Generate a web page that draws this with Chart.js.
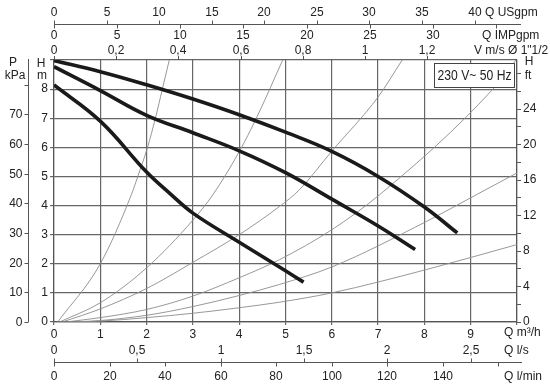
<!DOCTYPE html>
<html>
<head>
<meta charset="utf-8">
<script src="https://cdn.jsdelivr.net/npm/chart.js@4.4.1/dist/chart.umd.min.js"></script>
<style>
  html, body { margin: 0; padding: 0; background: #fff; }
  #chart { display: block; }
</style>
</head>
<body>
<canvas id="chart" width="550" height="388"></canvas>
<script>
// ------------------------------------------------------
// DATA
// ------------------------------------------------------
// pump curves, Q in m3/h, H in m
const pumpQ1 = [0, 1, 2, 3, 4, 5, 6, 7, 8, 8.71];
const pumpH1 = [8.98, 8.6, 8.15, 7.66, 7.12, 6.52, 5.86, 5.0, 3.95, 3.06];
const pumpQ2 = [0, 1, 2, 3, 4, 5, 6, 7, 7.8];
const pumpH2 = [8.77, 7.95, 7.1, 6.5, 5.88, 5.13, 4.22, 3.3, 2.49];
const pumpQ3 = [0, 1, 2, 2.5, 3, 4, 5, 5.39];
const pumpH3 = [8.14, 6.9, 5.15, 4.42, 3.74, 2.74, 1.76, 1.37];

// thin system curves
const sysQA = [0.08, 1.0, 1.67, 1.81, 2.02, 2.19, 2.34, 2.49];
const sysHA = [0, 2.0, 4.37, 5.0, 6.0, 7.0, 8.0, 9.0];
const sysQB = [0.12, 1.0, 2.0, 3.0, 3.43, 4.0, 4.37, 4.94];
const sysHB = [0, 0.66, 1.86, 3.5, 4.37, 5.85, 7.0, 9.0];
const sysQC = [0.18, 1, 2, 3, 4, 4.87, 5.3, 5.99, 7.0, 7.52];
const sysHC = [0, 0.45, 1.15, 2.05, 3.0, 3.97, 4.54, 5.85, 7.73, 9.0];
const sysQD = [0.25, 1, 2, 3, 4, 4.87, 6, 7.03, 9.48, 9.98];
const sysHD = [0, 0.15, 0.43, 0.89, 1.52, 2.14, 3.17, 4.37, 8.0, 9.0];
const sysQE = [0.35, 1, 2, 3, 4, 4.87, 6, 8.04, 9.12, 10];
const sysHE = [0, 0.05, 0.23, 0.53, 0.91, 1.29, 1.89, 3.45, 4.37, 5.12];
const sysQF = [0.45, 1, 2, 3, 4, 4.87, 6, 8.04, 10];
const sysHF = [0, 0.03, 0.15, 0.3, 0.49, 0.68, 1.0, 1.8, 2.66];

// extra axes
const usgpmTicks = [0, 5, 10, 15, 20, 25, 30, 35, 40];
const usgpmLabels = ["0", "5", "10", "15", "20", "25", "30", "35", "40"];
const impTicks = [0, 5, 10, 15, 20, 25, 30, 35];
const impLabels = ["0", "5", "10", "15", "20", "25", "30", ""];
const velTicks = [0, 0.2, 0.4, 0.6, 0.8, 1, 1.2];
const velLabels = ["0", "0,2", "0,4", "0,6", "0,8", "1", "1,2"];
const lsTicks = [0, 0.5, 1, 1.5, 2, 2.5];
const lsLabels = ["0", "0,5", "1", "1,5", "2", "2,5"];
const lminTicks = [0, 20, 40, 60, 80, 100, 120, 140, 160];
const lminLabels = ["0", "20", "40", "60", "80", "100", "120", "140", ""];
const kpaTicks = [0, 10, 20, 30, 40, 50, 60, 70, 80];
const kpaLabels = ["0", "10", "20", "30", "40", "50", "60", "70", ""];
const ftLabels = [0, 4, 8, 12, 16, 20, 24];

// unit factors -> m3/h or m
const M3H_PER_USGPM = 0.22712;
const M3H_PER_IMPGPM = 0.27277;
const M3H_PER_MS = 6.72;
const M3H_PER_LS = 3.6;
const M3H_PER_LMIN = 0.06;
const M_PER_KPA = 0.10197;
const FT_PER_M = 3.28084;

const FONT = "'Liberation Sans', Arial, Helvetica, sans-serif";
const TXT = "#222";
const GRID = "#666";

// ------------------------------------------------------
// HELPERS
// ------------------------------------------------------
function toPoints(qs, hs) {
  const out = [];
  for (let i = 0; i < qs.length; i++) {
    out.push({ x: qs[i], y: hs[i] });
  }
  return out;
}

function pumpSet(qs, hs) {
  return {
    data: toPoints(qs, hs),
    borderColor: "#1a1a1a",
    borderWidth: 3.6,
    pointRadius: 0,
    showLine: true,
    tension: 0.4,
    order: 0,
  };
}

function sysSet(qs, hs) {
  return {
    data: toPoints(qs, hs),
    borderColor: "#8c8c8c",
    borderWidth: 0.9,
    pointRadius: 0,
    showLine: true,
    cubicInterpolationMode: "monotone",
    order: 1,
  };
}

// horizontal extra axis: ticks given in their own unit, mapped through x scale
function drawHAxis(ctx, xs, y, ticks, labels, factor, dir, labelY) {
  ctx.strokeStyle = "#555";
  ctx.lineWidth = 1;
  ctx.fillStyle = TXT;
  ctx.textAlign = "center";
  ctx.textBaseline = "middle";
  for (let i = 0; i < ticks.length; i++) {
    const px = Math.round(xs.getPixelForValue(ticks[i] * factor));
    ctx.beginPath();
    ctx.moveTo(px + 0.5, y);
    ctx.lineTo(px + 0.5, y + dir * 4);
    ctx.stroke();
    if (labels && labels[i]) {
      ctx.fillText(labels[i], px, labelY);
    }
  }
}

// ------------------------------------------------------
// PLUGIN: extra unit axes, captions, voltage box
// ------------------------------------------------------
const extrasPlugin = {
  id: "extras",
  afterDatasetsDraw(chart) {
    const ctx = chart.ctx;
    ctx.save();
    // voltage box
    ctx.fillStyle = "#fff";
    ctx.fillRect(434, 63, 80, 24);
    ctx.strokeStyle = "#444";
    ctx.lineWidth = 1;
    ctx.strokeRect(434.5, 63.5, 80, 24);
    ctx.font = "15px " + FONT;
    const label = "230 V~ 50 Hz";
    const w = ctx.measureText(label).width;
    ctx.translate(474.5, 76);
    ctx.scale(74 / w, 1);
    ctx.fillStyle = TXT;
    ctx.textAlign = "center";
    ctx.textBaseline = "middle";
    ctx.fillText(label, 0, 0);
    ctx.restore();
  },
  afterDraw(chart) {
    const ctx = chart.ctx;
    const xs = chart.scales.x;
    const ys = chart.scales.y;
    const y2 = chart.scales.y2;
    const x0 = xs.getPixelForValue(0);
    ctx.save();
    ctx.font = "12px " + FONT;

    // top: US gpm / IMP gpm
    ctx.strokeStyle = "#555";
    ctx.lineWidth = 1;
    ctx.beginPath();
    ctx.moveTo(x0, 24.5);
    ctx.lineTo(521, 24.5);
    ctx.stroke();
    drawHAxis(ctx, xs, 24.5, usgpmTicks, usgpmLabels, M3H_PER_USGPM, -1, 13);
    drawHAxis(ctx, xs, 24.5, impTicks, impLabels, M3H_PER_IMPGPM, 1, 36);

    // top: velocity on the plot border
    drawHAxis(ctx, xs, chart.chartArea.top, velTicks, velLabels, M3H_PER_MS, -1, 51);

    // bottom: l/s and l/min
    ctx.beginPath();
    ctx.moveTo(x0, 362.5);
    ctx.lineTo(522, 362.5);
    ctx.stroke();
    drawHAxis(ctx, xs, 362.5, lsTicks, lsLabels, M3H_PER_LS, -1, 351);
    drawHAxis(ctx, xs, 362.5, lminTicks, lminLabels, M3H_PER_LMIN, 1, 377);

    // left: pressure kPa
    const kx = 28.5;
    ctx.beginPath();
    ctx.moveTo(kx, 59);
    ctx.lineTo(kx, ys.getPixelForValue(0));
    ctx.stroke();
    ctx.textAlign = "right";
    ctx.textBaseline = "middle";
    for (let i = 0; i < kpaTicks.length; i++) {
      const py = Math.round(ys.getPixelForValue(kpaTicks[i] * M_PER_KPA)) + 0.5;
      ctx.beginPath();
      ctx.moveTo(kx, py);
      ctx.lineTo(kx - 4, py);
      ctx.stroke();
      if (kpaLabels[i]) ctx.fillText(kpaLabels[i], kx - 6, py);
    }

    // right: feet labels
    ctx.textAlign = "left";
    for (let i = 0; i < ftLabels.length; i++) {
      ctx.fillText(String(ftLabels[i]), y2.left + 6, y2.getPixelForValue(ftLabels[i]));
    }

    // captions
    ctx.fillStyle = TXT;
    ctx.textAlign = "left";
    ctx.fillText("Q USgpm", 485, 13);
    ctx.fillText("Q IMPgpm", 482, 36);
    ctx.fillText("V m/s \u00d8 1\"1/2", 474, 51);
    ctx.fillText("Q m\u00b3/h", 504, 333);
    ctx.fillText("Q l/s", 504, 351);
    ctx.fillText("Q l/min", 504, 377);

    ctx.textAlign = "center";
    ctx.fillText("P", 13, 63);
    ctx.fillText("kPa", 15, 76);
    ctx.fillText("H", 41, 64);
    ctx.fillText("m", 42, 76);
    ctx.fillText("H", 529, 62);
    ctx.fillText("ft", 528, 76);
    ctx.restore();
  },
};

// ------------------------------------------------------
// CHART
// ------------------------------------------------------
const ctx = document.getElementById("chart").getContext("2d");

new Chart(ctx, {
  type: "scatter",
  data: {
    datasets: [
      pumpSet(pumpQ1, pumpH1),
      pumpSet(pumpQ2, pumpH2),
      pumpSet(pumpQ3, pumpH3),
      sysSet(sysQA, sysHA),
      sysSet(sysQB, sysHB),
      sysSet(sysQC, sysHC),
      sysSet(sysQD, sysHD),
      sysSet(sysQE, sysHE),
      sysSet(sysQF, sysHF),
    ],
  },
  options: {
    responsive: false,
    animation: false,
    devicePixelRatio: 1,
    layout: { padding: { left: 30, right: 20, top: 60, bottom: 50 } },
    plugins: {
      legend: { display: false },
      tooltip: { enabled: false },
    },
    scales: {
      x: {
        type: "linear",
        position: "bottom",
        min: 0,
        max: 10,
        afterFit: function (s) { s.height = 16; },
        ticks: {
          stepSize: 1,
          padding: 2,
          color: TXT,
          font: { family: FONT, size: 12 },
          maxRotation: 0,
          callback: function (v) { return v < 10 ? String(v) : ""; },
        },
        grid: { color: GRID, lineWidth: 1.2, tickLength: 3 },
        border: { color: "#555", width: 1.2 },
      },
      y: {
        type: "linear",
        position: "left",
        min: 0,
        max: 9,
        afterFit: function (s) { s.width = 24; },
        ticks: {
          stepSize: 1,
          padding: 2,
          color: TXT,
          font: { family: FONT, size: 12 },
          callback: function (v) { return v < 9 ? String(v) : ""; },
        },
        grid: { color: GRID, lineWidth: 1.2, tickLength: 4 },
        border: { color: "#555", width: 1.2 },
      },
      y2: {
        type: "linear",
        position: "right",
        min: 0,
        max: 9 * FT_PER_M,
        afterFit: function (s) { s.width = 13; },
        ticks: {
          stepSize: 2,
          includeBounds: false,
          callback: function () { return ""; },
        },
        grid: { drawOnChartArea: false, color: "#555", tickLength: 4 },
        border: { color: "#555", width: 1.2 },
      },
    },
  },
  plugins: [extrasPlugin],
});
</script>
</body>
</html>
